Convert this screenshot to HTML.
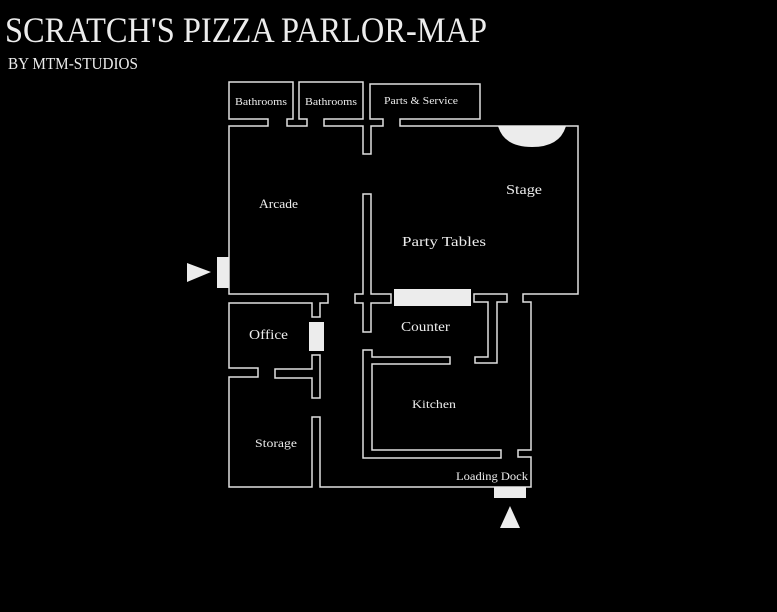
<!DOCTYPE html>
<html><head><meta charset="utf-8"><style>
html,body{margin:0;padding:0;background:#000;}
svg{display:block;}
text{font-family:"Liberation Serif",serif;fill:#ececec;}
</style></head><body>
<svg width="777" height="612" viewBox="0 0 777 612" xmlns="http://www.w3.org/2000/svg">
<rect width="777" height="612" fill="#000"/>
<text x="5" y="42" font-size="36" textLength="482" lengthAdjust="spacingAndGlyphs">SCRATCH'S PIZZA PARLOR-MAP</text>
<text x="8" y="69" font-size="17" textLength="130" lengthAdjust="spacingAndGlyphs">BY MTM-STUDIOS</text>
<g fill="none" stroke="#e0e0e0" stroke-width="1.5" stroke-linejoin="miter">
<polygon points="287,119 293,119 293,82 229,82 229,119 268,119 268,126 229,126 229,294 328,294 328,303 320,303 320,317 312,317 312,303 229,303 229,368 258,368 258,377 229,377 229,487 312,487 312,417 320,417 320,487 531,487 531,457 518,457 518,450 531,450 531,302 523,302 523,294 578,294 578,126 400,126 400,119 480,119 480,84 370,84 370,119 383,119 383,126 371,126 371,154 363,154 363,126 324,126 324,119 363,119 363,82 299,82 299,119 307,119 307,126 287,126"/>
<polygon points="474,294 507,294 507,302 497,302 497,363 475,363 475,357 488,357 488,302 474,302"/>
<polygon points="363,194 371,194 371,294 391,294 391,303 371,303 371,332 363,332 363,303 355,303 355,294 363,294"/>
<polygon points="363,350 372,350 372,357 450,357 450,364 372,364 372,450 501,450 501,458 363,458"/>
<polygon points="312,355 320,355 320,398 312,398 312,378 275,378 275,369 312,369"/>
</g>
<g fill="#ececec">
<rect x="394" y="289" width="77" height="17"/>
<rect x="309" y="322" width="15" height="29"/>
<rect x="217" y="257" width="12" height="31"/>
<rect x="494" y="487" width="32" height="11"/>
<path d="M498,126 L566,126 Q560,147 532,147 Q504,147 498,126 Z"/>
<polygon points="187,263 211,272 187,282"/>
<polygon points="510,506 520,528 500,528"/>
</g>
<text x="235" y="105" font-size="11" textLength="52" lengthAdjust="spacingAndGlyphs">Bathrooms</text>
<text x="305" y="105" font-size="11" textLength="52" lengthAdjust="spacingAndGlyphs">Bathrooms</text>
<text x="384" y="104" font-size="10" textLength="74" lengthAdjust="spacingAndGlyphs">Parts &amp; Service</text>
<text x="259" y="208" font-size="13" textLength="39" lengthAdjust="spacingAndGlyphs">Arcade</text>
<text x="506" y="194" font-size="14" textLength="36" lengthAdjust="spacingAndGlyphs">Stage</text>
<text x="402" y="246" font-size="14" textLength="84" lengthAdjust="spacingAndGlyphs">Party Tables</text>
<text x="401" y="331" font-size="14" textLength="49" lengthAdjust="spacingAndGlyphs">Counter</text>
<text x="249" y="339" font-size="14" textLength="39" lengthAdjust="spacingAndGlyphs">Office</text>
<text x="412" y="408" font-size="12" textLength="44" lengthAdjust="spacingAndGlyphs">Kitchen</text>
<text x="255" y="447" font-size="12" textLength="42" lengthAdjust="spacingAndGlyphs">Storage</text>
<text x="456" y="480" font-size="12" textLength="72" lengthAdjust="spacingAndGlyphs">Loading Dock</text>
</svg>
</body></html>
